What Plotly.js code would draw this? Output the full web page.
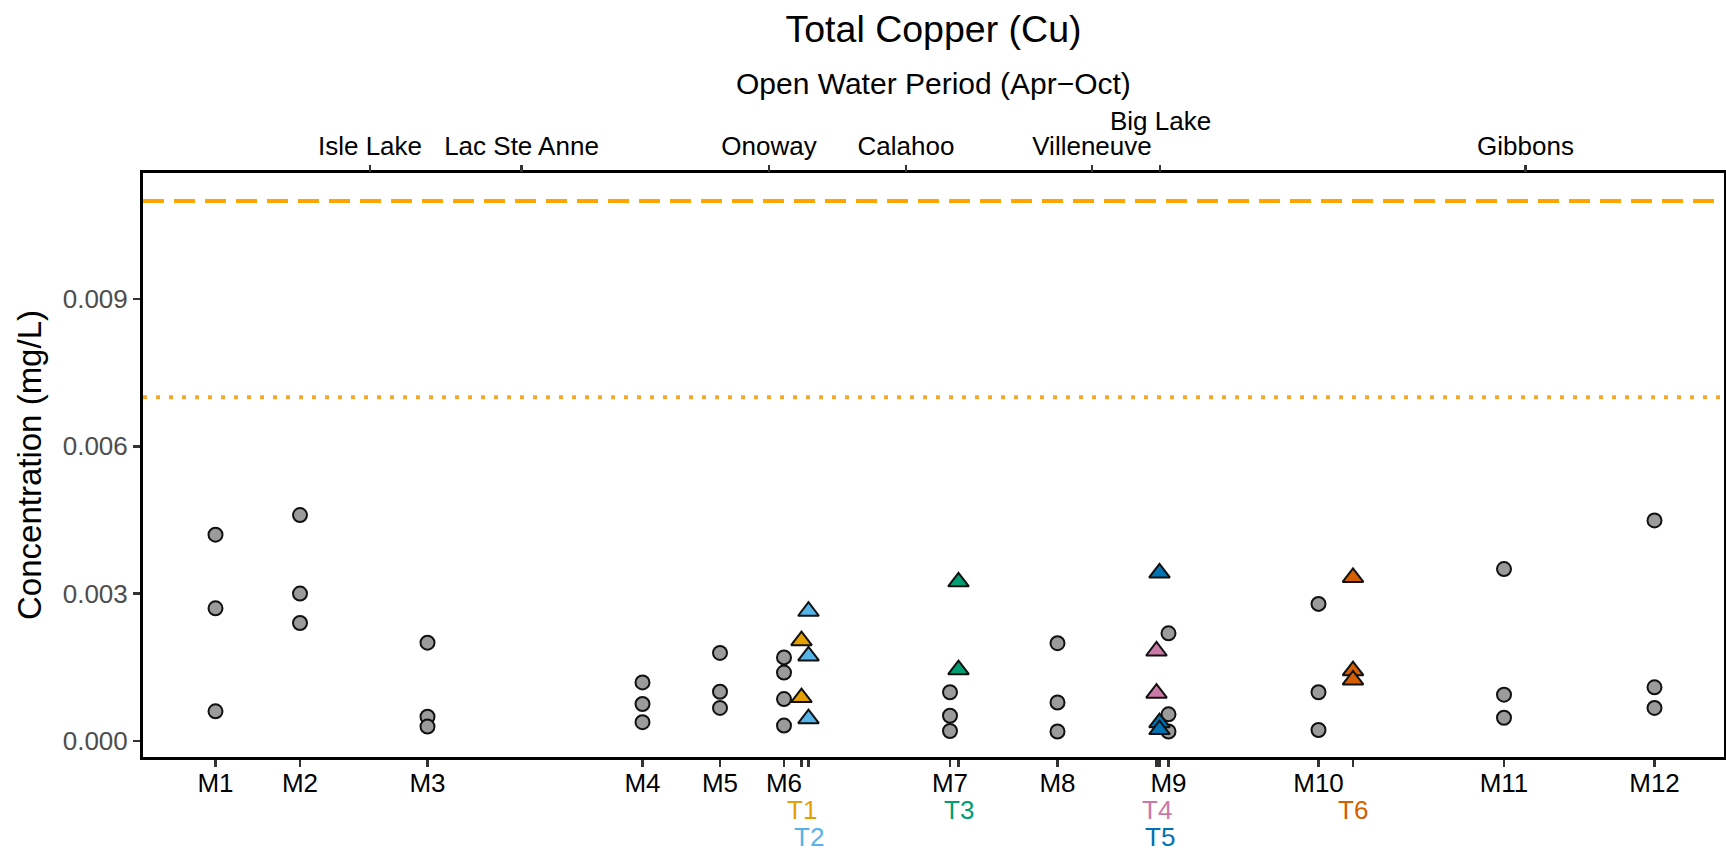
<!DOCTYPE html>
<html>
<head>
<meta charset="utf-8">
<script src="https://cdn.plot.ly/plotly-3.0.1.min.js"></script>
<style>
  html, body { margin: 0; padding: 0; background: #ffffff; }
  #chart { width: 1726px; height: 856px; }
</style>
</head>
<body>
<div id="chart"></div>
<script>
// Mainstem sampling sites, positioned by distance along the river (km)
const sites = ['M1', 'M2', 'M3', 'M4', 'M5', 'M6', 'M7', 'M8', 'M9', 'M10', 'M11', 'M12'];
const siteKm = [14.5, 31.4, 56.9, 99.9, 115.4, 128.2, 161.4, 182.9, 205.1, 235.1, 272.2, 302.3];

// Total copper at each mainstem site (mg/L)
const m1 = [0.0042, 0.0027, 0.0006];
const m2 = [0.0046, 0.0030, 0.0024];
const m3 = [0.0020, 0.00049, 0.00029];
const m4 = [0.00119, 0.00075, 0.00038];
const m5 = [0.00179, 0.00100, 0.00067];
const m6 = [0.00170, 0.00139, 0.00085, 0.00031];
const m7 = [0.00099, 0.00051, 0.00020];
const m8 = [0.00199, 0.00078, 0.00019];
const m9 = [0.00219, 0.00054, 0.00019];
const m10 = [0.00279, 0.00099, 0.00022];
const m11 = [0.00350, 0.00094, 0.00047];
const m12 = [0.00449, 0.00109, 0.00067];
const siteValues = [m1, m2, m3, m4, m5, m6, m7, m8, m9, m10, m11, m12];

// Tributary inflows
const tribs = ['T1', 'T2', 'T3', 'T4', 'T5', 'T6'];
const tribKm = [131.7, 133.1, 163.1, 202.7, 203.3, 242.0];
const t1 = [0.00204, 0.00088];
const t2 = [0.00264, 0.00173, 0.00045];
const t3 = [0.00324, 0.00145];
const t4 = [0.00183, 0.00097];
const t5 = [0.00342, 0.00037, 0.00023];
const t6 = [0.00333, 0.00143, 0.00124];
const tribValues = [t1, t2, t3, t4, t5, t6];
const tribColors = ['#E69F00', '#56B4E9', '#009E73', '#CC79A7', '#0072B2', '#D55E00'];

// Communities along the river (top axis)
const towns = ['Isle Lake', 'Lac Ste Anne', 'Onoway', 'Calahoo', 'Villeneuve', 'Big Lake', 'Gibbons'];
const townKm = [45.4, 75.7, 125.2, 152.6, 189.8, 203.4, 276.5];

// Guideline concentrations (mg/L)
const guideAcute = 0.011;
const guideChronic = 0.007;

const yTicks = [0, 0.003, 0.006, 0.009];

const FONT = 'Liberation Sans, Arial, Helvetica, sans-serif';
const X_RANGE = [0, 316.2];
const TICK_SIZE = 26;

// ---- traces ----
const traces = [];

const mx = [], my = [];
siteValues.forEach((vals, i) => vals.forEach(v => { mx.push(siteKm[i]); my.push(v); }));
traces.push({
  type: 'scatter', mode: 'markers', x: mx, y: my,
  marker: { symbol: 'circle', size: 14, color: '#9B9B9B', line: { color: '#111111', width: 2 } },
  hoverinfo: 'skip', showlegend: false
});

tribValues.forEach((vals, i) => {
  traces.push({
    type: 'scatter', mode: 'markers',
    x: vals.map(() => tribKm[i]), y: vals,
    marker: { symbol: 'triangle-up', size: 18, color: tribColors[i], line: { color: '#111111', width: 2 } },
    hoverinfo: 'skip', showlegend: false
  });
});

// keeps the top (community) axis attached to the plot
traces.push({ type: 'scatter', mode: 'markers', x: [townKm[0]], y: [null], xaxis: 'x2', yaxis: 'y', hoverinfo: 'skip', showlegend: false });

// ---- bottom axis: sites labelled on the axis, tributaries stacked underneath ----
const tribRows = [];
tribKm.forEach((km, i) => {
  let row = 1;
  if (i > 0 && Math.abs(km - tribKm[i - 1]) < 5) row = tribRows[i - 1] + 1;
  tribRows.push(row);
});
const bottomVals = siteKm.concat(tribKm);
const bottomText = sites.concat(tribs.map(() => ''));

// ---- top axis: community names, lifted when crowded ----
const townRaised = townKm.map((km, i) => i > 0 && Math.abs(km - townKm[i - 1]) < 20);
const topText = towns.map((t, i) => townRaised[i] ? '' : t);

const annotations = [
  {
    text: 'Open Water Period (Apr\u2212Oct)', xref: 'paper', yref: 'paper',
    x: 0.5, y: 1.1541, xanchor: 'center', yanchor: 'middle', showarrow: false,
    font: { family: FONT, size: 30, color: '#000000' }
  }
];
towns.forEach((t, i) => {
  if (!townRaised[i]) return;
  annotations.push({
    text: t, xref: 'x2', yref: 'paper', x: townKm[i], y: 1.089,
    xanchor: 'center', yanchor: 'middle', showarrow: false,
    font: { family: FONT, size: TICK_SIZE, color: '#000000' }
  });
});
const ROW_GAP = 27;
tribs.forEach((t, i) => {
  annotations.push({
    text: t, xref: 'x', yref: 'paper', x: tribKm[i], y: 0,
    xanchor: 'center', yanchor: 'middle', yshift: -26 - ROW_GAP * tribRows[i],
    showarrow: false, borderpad: 0,
    font: { family: FONT, size: TICK_SIZE, color: tribColors[i] }
  });
});

const shapes = [
  { type: 'line', xref: 'paper', yref: 'y', x0: 0, x1: 1, y0: guideAcute, y1: guideAcute,
    line: { color: '#FFA500', width: 4, dash: '21px,10px' } },
  { type: 'line', xref: 'paper', yref: 'y', x0: 0, x1: 1, y0: guideChronic, y1: guideChronic,
    line: { color: '#F2A92C', width: 4, dash: '4px,9px' } }
];

const layout = {
  width: 1726, height: 856,
  margin: { l: 143, r: 2, t: 173, b: 99, pad: 0 },
  paper_bgcolor: '#ffffff', plot_bgcolor: '#ffffff',
  font: { family: FONT, color: '#000000' },
  showlegend: false,
  title: {
    text: 'Total Copper (Cu)', xref: 'paper', x: 0.5, xanchor: 'center',
    yref: 'container', y: 1 - 29 / 856, yanchor: 'middle',
    font: { family: FONT, size: 37.5, color: '#000000' }
  },
  xaxis: {
    range: X_RANGE, tickmode: 'array', tickvals: bottomVals, ticktext: bottomText,
    tickangle: 0, ticks: 'outside', ticklen: 7, tickwidth: 2.5, tickcolor: '#333333',
    ticklabelstandoff: -6,
    showline: true, linewidth: 3, linecolor: '#000000', mirror: true,
    showgrid: false, zeroline: false, automargin: false,
    tickfont: { family: FONT, size: TICK_SIZE, color: '#000000' }
  },
  xaxis2: {
    overlaying: 'x', side: 'top', anchor: 'y', range: X_RANGE,
    tickmode: 'array', tickvals: townKm, ticktext: topText, tickangle: 0,
    ticks: 'outside', ticklen: 7, tickwidth: 2.5, tickcolor: '#333333',
    showline: false, showgrid: false, zeroline: false, automargin: false,
    tickfont: { family: FONT, size: TICK_SIZE, color: '#000000' }
  },
  yaxis: {
    range: [-0.00033, 0.01157], tickmode: 'array', tickvals: yTicks,
    ticktext: yTicks.map(v => v.toFixed(3)),
    ticks: 'outside', ticklen: 7, tickwidth: 2.5, tickcolor: '#333333',
    showline: true, linewidth: 3, linecolor: '#000000', mirror: true,
    showgrid: false, zeroline: false, automargin: false,
    tickfont: { family: FONT, size: TICK_SIZE, color: '#4D4D4D' },
    title: { text: 'Concentration (mg/L)', standoff: 12, font: { family: FONT, size: 33, color: '#000000' } }
  },
  shapes: shapes,
  annotations: annotations
};

Plotly.newPlot('chart', traces, layout, { staticPlot: true, displayModeBar: false });
</script>
</body>
</html>
